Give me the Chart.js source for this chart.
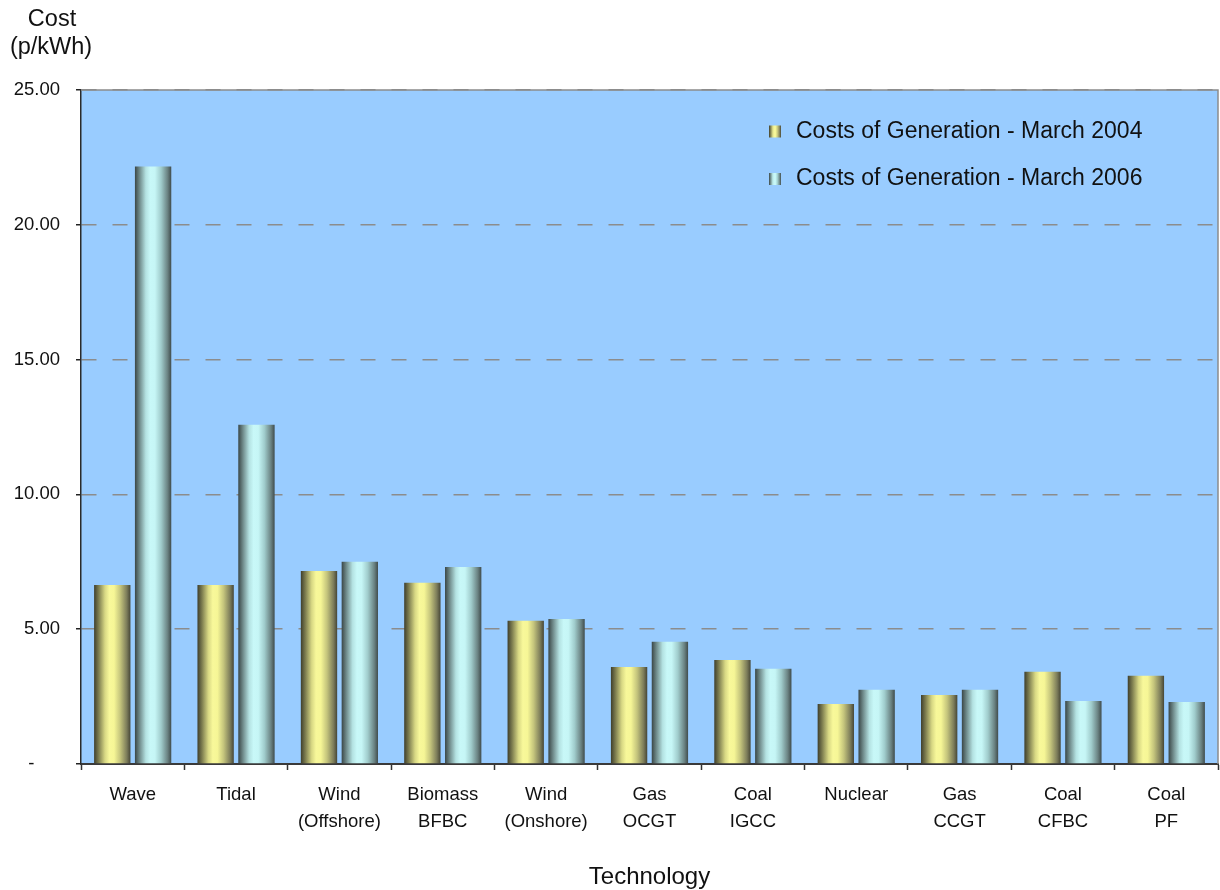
<!DOCTYPE html>
<html>
<head>
<meta charset="utf-8">
<title>Costs of Generation</title>
<script src="https://cdn.jsdelivr.net/npm/chart.js@4/dist/chart.umd.min.js"></script>
<style>
  html, body { margin: 0; padding: 0; background: #ffffff; }
  #wrap { width: 1220px; height: 890px; }
</style>
</head>
<body>
<div id="wrap"><canvas id="chart" width="1220" height="890"></canvas></div>
<script>
// Technologies (two-line labels)
const categories = [
  ['Wave'], ['Tidal'], ['Wind', '(Offshore)'], ['Biomass', 'BFBC'], ['Wind', '(Onshore)'],
  ['Gas', 'OCGT'], ['Coal', 'IGCC'], ['Nuclear'], ['Gas', 'CCGT'], ['Coal', 'CFBC'], ['Coal', 'PF']
];
// Cost of generation, p/kWh
const costs2004 = [6.64, 6.64, 7.16, 6.72, 5.31, 3.60, 3.86, 2.23, 2.56, 3.42, 3.27];
const costs2006 = [22.16, 12.58, 7.50, 7.31, 5.38, 4.53, 3.53, 2.75, 2.75, 2.34, 2.30];
const seriesNames = ['Costs of Generation - March 2004', 'Costs of Generation - March 2006'];
const yTicks = [0, 5, 10, 15, 20, 25];

const CAT_PCT = 0.79;
const BAR_PCT = 0.89;
const FONT = "'Liberation Sans', Arial, sans-serif";

// Cylinder-like shading across each bar
const shades = [
  ['#3e3e2c', '#7a7a4e', '#d8d884', '#f8f89a', '#f6f696', '#c4c47c', '#7c7c5a', '#464636'],
  ['#3a4646', '#6c8686', '#b4e2e2', '#c8f8f8', '#c6f6f6', '#a0cccc', '#6a8282', '#404c4c']
];
const stopPos = [0, 0.12, 0.3, 0.42, 0.55, 0.72, 0.9, 1];

function shadeGradient(ctx, x0, x1, kind) {
  const g = ctx.createLinearGradient(x0, 0, x1, 0);
  shades[kind].forEach((c, i) => g.addColorStop(stopPos[i], c));
  return g;
}

function barFill(kind) {
  return (c) => {
    const chart = c.chart;
    const xs = chart.scales && chart.scales.x;
    if (c.type !== 'data' || !xs) return shades[kind][3];
    const catW = xs.width / categories.length;
    const slot = catW * CAT_PCT / 2;
    const center = xs.getPixelForValue(c.dataIndex) + (kind - 0.5) * slot;
    const half = slot * BAR_PCT / 2;
    if (!isFinite(center) || !isFinite(half) || half <= 0) return shades[kind][3];
    return shadeGradient(chart.ctx, center - half, center + half, kind);
  };
}

// Plot background, frame, titles and in-plot legend
const decor = {
  id: 'decor',
  beforeDraw(chart) {
    const { ctx, chartArea: a } = chart;
    ctx.save();
    ctx.fillStyle = '#99ccff';
    ctx.fillRect(a.left, a.top, a.right - a.left, a.bottom - a.top);
    ctx.restore();
  },
  beforeDatasetsDraw(chart) {
    const { ctx, chartArea: a } = chart;
    ctx.save();
    ctx.strokeStyle = '#8c8c8c';
    ctx.lineWidth = 1.5;
    ctx.beginPath();
    ctx.moveTo(a.left, a.top);
    ctx.lineTo(a.right, a.top);
    ctx.lineTo(a.right, a.bottom);
    ctx.stroke();
    ctx.restore();
  },
  afterDraw(chart) {
    const { ctx } = chart;
    ctx.save();
    ctx.fillStyle = '#111';
    ctx.textAlign = 'center';
    ctx.textBaseline = 'middle';
    ctx.font = '23.5px ' + FONT;
    ctx.fillText('Cost', 52, 20);
    ctx.fillText('(p/kWh)', 51, 48);

    // legend
    ctx.textAlign = 'left';
    ctx.font = '23px ' + FONT;
    const rows = [131.5, 179];
    seriesNames.forEach((name, i) => {
      const y = rows[i];
      ctx.fillStyle = shadeGradient(ctx, 769, 781, i);
      ctx.fillRect(769, y - 6, 12, 12);
      ctx.fillStyle = '#111';
      ctx.fillText(name, 796, y);
    });
    ctx.restore();
  }
};

new Chart(document.getElementById('chart'), {
  type: 'bar',
  data: {
    labels: categories,
    datasets: [
      { label: seriesNames[0], data: costs2004, backgroundColor: barFill(0), borderWidth: 0 },
      { label: seriesNames[1], data: costs2006, backgroundColor: barFill(1), borderWidth: 0 }
    ]
  },
  options: {
    responsive: false,
    animation: false,
    events: [],
    devicePixelRatio: 1,
    categoryPercentage: CAT_PCT,
    barPercentage: BAR_PCT,
    layout: { padding: { top: 90, right: 2, left: 0, bottom: 0 } },
    plugins: {
      legend: { display: false },
      tooltip: { enabled: false }
    },
    scales: {
      x: {
        afterFit(scale) { scale.height = 126; },
        grid: {
          offset: true,
          drawOnChartArea: false,
          drawTicks: true,
          tickLength: 6,
          tickColor: '#333333',
          tickWidth: 1.5
        },
        border: { display: true, color: '#3a3a3a', width: 2 },
        ticks: {
          color: '#111',
          padding: 11,
          maxRotation: 0,
          autoSkip: false,
          font: { family: FONT, size: 18.5, lineHeight: 1.46 }
        },
        title: {
          display: true,
          text: 'Technology',
          color: '#111',
          font: { family: FONT, size: 24 },
          padding: { top: 0, bottom: -2 }
        }
      },
      y: {
        min: 0,
        max: 25,
        afterFit(scale) { scale.width = 81; },
        afterBuildTicks(scale) { scale.ticks = yTicks.map(v => ({ value: v })); },
        grid: {
          color: '#8c8c8c',
          lineWidth: 1.5,
          drawTicks: true,
          tickLength: 5,
          tickColor: '#222',
          tickWidth: 1.5,
          tickBorderDash: []
        },
        border: { display: true, color: '#2a2a2a', width: 1.5, dash: [15, 16] },
        ticks: {
          color: '#111',
          padding: 16,
          font: { family: FONT, size: 18.5 },
          callback: (v) => v === 0 ? '-     ' : v.toFixed(2)
        }
      }
    }
  },
  plugins: [decor]
});
</script>
</body>
</html>
